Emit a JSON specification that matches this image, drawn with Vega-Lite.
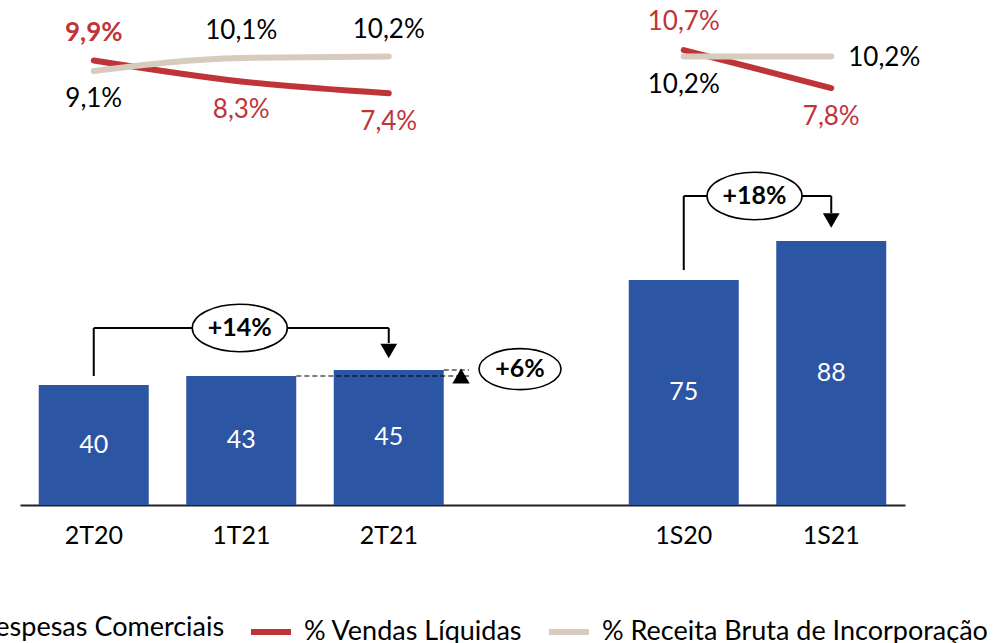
{
  "$schema": "https://vega.github.io/schema/vega-lite/v6.json",
  "width": 885,
  "height": 505,
  "autosize": {"type": "none"},
  "padding": {"left": 20, "top": 0, "right": 90, "bottom": 138},
  "background": "white",
  "config": {"view": {"stroke": null}, "font": "Lato", "text": {"font": "Lato"}},
  "datasets": {
    "bars": [
      {"period": "2T20", "series": "Despesas Comerciais", "value": 40},
      {"period": "1T21", "series": "Despesas Comerciais", "value": 43},
      {"period": "2T21", "series": "Despesas Comerciais", "value": 45},
      {"period": "1S20", "series": "Despesas Comerciais", "value": 75},
      {"period": "1S21", "series": "Despesas Comerciais", "value": 88}
    ],
    "lines": [
      {"period": "2T20", "series": "% Vendas Líquidas", "grp": "T", "value": 9.9, "label": "9,9%"},
      {"period": "1T21", "series": "% Vendas Líquidas", "grp": "T", "value": 8.3, "label": "8,3%"},
      {"period": "2T21", "series": "% Vendas Líquidas", "grp": "T", "value": 7.4, "label": "7,4%"},
      {"period": "1S20", "series": "% Vendas Líquidas", "grp": "S", "value": 10.7, "label": "10,7%"},
      {"period": "1S21", "series": "% Vendas Líquidas", "grp": "S", "value": 7.8, "label": "7,8%"},
      {"period": "2T20", "series": "% Receita Bruta de Incorporação", "grp": "T", "value": 9.1, "label": "9,1%"},
      {"period": "1T21", "series": "% Receita Bruta de Incorporação", "grp": "T", "value": 10.1, "label": "10,1%"},
      {"period": "2T21", "series": "% Receita Bruta de Incorporação", "grp": "T", "value": 10.2, "label": "10,2%"},
      {"period": "1S20", "series": "% Receita Bruta de Incorporação", "grp": "S", "value": 10.2, "label": "10,2%"},
      {"period": "1S21", "series": "% Receita Bruta de Incorporação", "grp": "S", "value": 10.2, "label": "10,2%"}
    ],
    "conn": [
      {"x": 0.5, "x2": 0.5, "y": 43, "y2": 59},
      {"x": 0.5, "x2": 2.5, "y": 59, "y2": 59},
      {"x": 2.5, "x2": 2.5, "y": 59, "y2": 54},
      {"x": 4.5, "x2": 4.5, "y": 78.3, "y2": 103},
      {"x": 4.5, "x2": 5.5, "y": 103, "y2": 103},
      {"x": 5.5, "x2": 5.5, "y": 103, "y2": 97.3}
    ],
    "dash": [
      {"x": 1.873, "x2": 3.044, "y": 43, "y2": 43},
      {"x": 2.873, "x2": 3.044, "y": 45, "y2": 45}
    ],
    "arrows": [
      {"kind": "down", "x": 2.5, "y": 51.3},
      {"kind": "down", "x": 5.5, "y": 94.8},
      {"kind": "up", "x": 2.99, "y": 43}
    ],
    "tags": [
      {"tag": "+14%", "x": 1.49, "y": 59},
      {"tag": "+18%", "x": 4.98, "y": 103},
      {"tag": "+6%", "x": 3.39, "y": 45.3}
    ]
  },
  "layer": [
    {
      "data": {"name": "bars"},
      "mark": {"type": "bar"},
      "encoding": {
        "x": {
          "field": "period", "type": "nominal",
          "scale": {"type": "band", "domain": ["2T20", "1T21", "2T21", " ", "1S20", "1S21"], "paddingInner": 0.2542, "paddingOuter": 0.1271},
          "axis": {"title": null, "labelAngle": 0, "ticks": false, "domainColor": "#222", "domainWidth": 2, "labelFontSize": 25, "labelColor": "#000", "labelPadding": 18, "labelFont": "Lato"}
        },
        "y": {"field": "value", "type": "quantitative", "scale": {"domain": [0, 168.33], "nice": false}, "axis": null},
        "color": {
          "field": "series", "type": "nominal",
          "scale": {"domain": ["Despesas Comerciais", "% Vendas Líquidas", "% Receita Bruta de Incorporação"], "range": ["#2C55A4", "#BF3439", "#D7CBBE"]},
          "legend": {
            "orient": "none", "legendX": -101, "legendY": 605, "direction": "horizontal", "title": null,
            "labelFont": "Lato", "labelFontSize": 27, "labelColor": "#000", "labelLimit": 600,
            "symbolSize": 1600, "labelOffset": 10, "columnPadding": 14,
            "encode": {
              "symbols": {
                "update": {
                  "shape": {"signal": "datum.value === 'Despesas Comerciais' ? 'square' : 'stroke'"},
                  "size": {"signal": "datum.value === 'Despesas Comerciais' ? 300 : 1600"},
                  "fill": {"signal": "datum.value === 'Despesas Comerciais' ? '#2C55A4' : 'transparent'"},
                  "stroke": {"signal": "datum.value === '% Vendas Líquidas' ? '#BF3439' : (datum.value === '% Receita Bruta de Incorporação' ? '#D7CBBE' : 'transparent')"},
                  "strokeWidth": {"value": 6},
                  "opacity": {"value": 1}
                }
              }
            }
          }
        }
      }
    },
    {
      "data": {"name": "bars"},
      "mark": {"type": "text", "color": "white", "fontSize": 25, "font": "Lato", "baseline": "middle"},
      "encoding": {
        "x": {"field": "period", "type": "nominal", "scale": {"type": "point", "domain": ["2T20", "1T21", "2T21", " ", "1S20", "1S21"], "padding": 0.5}, "axis": null},
        "y": {"field": "value", "type": "quantitative", "scale": {"domain": [0, 336.66], "nice": false}, "axis": null},
        "text": {"field": "value", "type": "quantitative"}
      }
    },
    {
      "data": {"name": "lines"},
      "transform": [{"filter": "datum.series === '% Vendas Líquidas'"}],
      "mark": {"type": "line", "strokeWidth": 6, "strokeCap": "round", "interpolate": "monotone"},
      "encoding": {
        "x": {"field": "period", "type": "nominal", "scale": {"type": "point", "domain": ["2T20", "1T21", "2T21", " ", "1S20", "1S21"], "padding": 0.5}, "axis": null},
        "y": {"field": "value", "type": "quantitative", "scale": {"domain": [-24.03, 14.52], "nice": false, "zero": false}, "axis": null},
        "color": {"field": "series", "type": "nominal"},
        "detail": {"field": "grp"}
      }
    },
    {
      "data": {"name": "lines"},
      "transform": [{"filter": "datum.series === '% Receita Bruta de Incorporação'"}],
      "mark": {"type": "line", "strokeWidth": 6, "strokeCap": "round", "interpolate": "monotone"},
      "encoding": {
        "x": {"field": "period", "type": "nominal", "scale": {"type": "point", "domain": ["2T20", "1T21", "2T21", " ", "1S20", "1S21"], "padding": 0.5}, "axis": null},
        "y": {"field": "value", "type": "quantitative", "scale": {"domain": [-24.03, 14.52], "nice": false, "zero": false}, "axis": null},
        "color": {"field": "series", "type": "nominal"},
        "detail": {"field": "grp"}
      }
    },
    {
      "data": {"name": "lines"},
      "transform": [{"filter": "datum.series === '% Vendas Líquidas' && datum.period === '2T20'"}],
      "mark": {"type": "text", "color": "#BF3439", "fontSize": 26, "font": "Lato", "fontWeight": "bold", "baseline": "middle", "dy": -28},
      "encoding": {
        "x": {"field": "period", "type": "nominal", "scale": {"type": "point", "domain": ["2T20", "1T21", "2T21", " ", "1S20", "1S21"], "padding": 0.5}, "axis": null},
        "y": {"field": "value", "type": "quantitative", "scale": {"domain": [-24.03, 14.52], "nice": false, "zero": false}, "axis": null},
        "text": {"field": "label"}
      }
    },
    {
      "data": {"name": "lines"},
      "transform": [{"filter": "datum.series === '% Vendas Líquidas' && datum.period === '1S20'"}],
      "mark": {"type": "text", "color": "#BF3439", "fontSize": 26, "font": "Lato", "baseline": "middle", "dy": -28},
      "encoding": {
        "x": {"field": "period", "type": "nominal", "scale": {"type": "point", "domain": ["2T20", "1T21", "2T21", " ", "1S20", "1S21"], "padding": 0.5}, "axis": null},
        "y": {"field": "value", "type": "quantitative", "scale": {"domain": [-24.03, 14.52], "nice": false, "zero": false}, "axis": null},
        "text": {"field": "label"}
      }
    },
    {
      "data": {"name": "lines"},
      "transform": [{"filter": "datum.series === '% Vendas Líquidas' && datum.period !== '2T20' && datum.period !== '1S20'"}],
      "mark": {"type": "text", "color": "#BF3439", "fontSize": 26, "font": "Lato", "baseline": "middle", "dy": 29},
      "encoding": {
        "x": {"field": "period", "type": "nominal", "scale": {"type": "point", "domain": ["2T20", "1T21", "2T21", " ", "1S20", "1S21"], "padding": 0.5}, "axis": null},
        "y": {"field": "value", "type": "quantitative", "scale": {"domain": [-24.03, 14.52], "nice": false, "zero": false}, "axis": null},
        "text": {"field": "label"}
      }
    },
    {
      "data": {"name": "lines"},
      "transform": [{"filter": "datum.series === '% Receita Bruta de Incorporação' && (datum.period === '1T21' || datum.period === '2T21')"}],
      "mark": {"type": "text", "color": "#000", "fontSize": 26, "font": "Lato", "baseline": "middle", "dy": -27},
      "encoding": {
        "x": {"field": "period", "type": "nominal", "scale": {"type": "point", "domain": ["2T20", "1T21", "2T21", " ", "1S20", "1S21"], "padding": 0.5}, "axis": null},
        "y": {"field": "value", "type": "quantitative", "scale": {"domain": [-24.03, 14.52], "nice": false, "zero": false}, "axis": null},
        "text": {"field": "label"}
      }
    },
    {
      "data": {"name": "lines"},
      "transform": [{"filter": "datum.series === '% Receita Bruta de Incorporação' && (datum.period === '2T20' || datum.period === '1S20')"}],
      "mark": {"type": "text", "color": "#000", "fontSize": 26, "font": "Lato", "baseline": "middle", "dy": 28},
      "encoding": {
        "x": {"field": "period", "type": "nominal", "scale": {"type": "point", "domain": ["2T20", "1T21", "2T21", " ", "1S20", "1S21"], "padding": 0.5}, "axis": null},
        "y": {"field": "value", "type": "quantitative", "scale": {"domain": [-24.03, 14.52], "nice": false, "zero": false}, "axis": null},
        "text": {"field": "label"}
      }
    },
    {
      "data": {"name": "lines"},
      "transform": [{"filter": "datum.series === '% Receita Bruta de Incorporação' && datum.period === '1S21'"}],
      "mark": {"type": "text", "color": "#000", "fontSize": 26, "font": "Lato", "baseline": "middle", "align": "left", "dx": 17, "dy": 1},
      "encoding": {
        "x": {"field": "period", "type": "nominal", "scale": {"type": "point", "domain": ["2T20", "1T21", "2T21", " ", "1S20", "1S21"], "padding": 0.5}, "axis": null},
        "y": {"field": "value", "type": "quantitative", "scale": {"domain": [-24.03, 14.52], "nice": false, "zero": false}, "axis": null},
        "text": {"field": "label"}
      }
    },
    {
      "data": {"name": "conn"},
      "mark": {"type": "rule", "color": "#000", "strokeWidth": 2},
      "encoding": {
        "x": {"field": "x", "type": "quantitative", "scale": {"domain": [0, 6], "nice": false, "zero": false}, "axis": null},
        "x2": {"field": "x2"},
        "y": {"field": "y", "type": "quantitative", "scale": {"domain": [0, 168.33], "nice": false}, "axis": null},
        "y2": {"field": "y2"}
      }
    },
    {
      "data": {"name": "dash"},
      "mark": {"type": "rule", "color": "#000", "strokeWidth": 1.2, "strokeDash": [5, 3]},
      "encoding": {
        "x": {"field": "x", "type": "quantitative", "scale": {"domain": [0, 6], "nice": false, "zero": false}, "axis": null},
        "x2": {"field": "x2"},
        "y": {"field": "y", "type": "quantitative", "scale": {"domain": [0, 168.33], "nice": false}, "axis": null},
        "y2": {"field": "y2"}
      }
    },
    {
      "data": {"name": "arrows"},
      "transform": [{"filter": "datum.kind === 'down'"}],
      "mark": {"type": "point", "shape": "triangle-down", "filled": true, "color": "#000", "size": 280, "opacity": 1},
      "encoding": {
        "x": {"field": "x", "type": "quantitative", "scale": {"domain": [0, 6], "nice": false, "zero": false}, "axis": null},
        "y": {"field": "y", "type": "quantitative", "scale": {"domain": [0, 168.33], "nice": false}, "axis": null}
      }
    },
    {
      "data": {"name": "arrows"},
      "transform": [{"filter": "datum.kind === 'up'"}],
      "mark": {"type": "point", "shape": "triangle-up", "filled": true, "color": "#000", "size": 300, "opacity": 1},
      "encoding": {
        "x": {"field": "x", "type": "quantitative", "scale": {"domain": [0, 6], "nice": false, "zero": false}, "axis": null},
        "y": {"field": "y", "type": "quantitative", "scale": {"domain": [0, 168.33], "nice": false}, "axis": null}
      }
    },
    {
      "data": {"name": "tags"},
      "transform": [{"filter": "datum.tag !== '+6%'"}],
      "mark": {"type": "point", "shape": "M-1,0A1,0.5 0 1,0 1,0A1,0.5 0 1,0 -1,0Z", "filled": true, "fill": "white", "stroke": "#000", "strokeWidth": 1.6, "size": 9025, "opacity": 1, "fillOpacity": 1},
      "encoding": {
        "x": {"field": "x", "type": "quantitative", "scale": {"domain": [0, 6], "nice": false, "zero": false}, "axis": null},
        "y": {"field": "y", "type": "quantitative", "scale": {"domain": [0, 168.33], "nice": false}, "axis": null}
      }
    },
    {
      "data": {"name": "tags"},
      "transform": [{"filter": "datum.tag === '+6%'"}],
      "mark": {"type": "point", "shape": "M-1,0A1,0.5 0 1,0 1,0A1,0.5 0 1,0 -1,0Z", "filled": true, "fill": "white", "stroke": "#000", "strokeWidth": 1.6, "size": 6724, "opacity": 1, "fillOpacity": 1},
      "encoding": {
        "x": {"field": "x", "type": "quantitative", "scale": {"domain": [0, 6], "nice": false, "zero": false}, "axis": null},
        "y": {"field": "y", "type": "quantitative", "scale": {"domain": [0, 168.33], "nice": false}, "axis": null}
      }
    },
    {
      "data": {"name": "tags"},
      "mark": {"type": "text", "color": "#000", "fontSize": 25, "font": "Lato", "fontWeight": "bold", "baseline": "middle"},
      "encoding": {
        "x": {"field": "x", "type": "quantitative", "scale": {"domain": [0, 6], "nice": false, "zero": false}, "axis": null},
        "y": {"field": "y", "type": "quantitative", "scale": {"domain": [0, 168.33], "nice": false}, "axis": null},
        "text": {"field": "tag"}
      }
    }
  ],
  "resolve": {"scale": {"x": "independent", "y": "independent"}}
}
